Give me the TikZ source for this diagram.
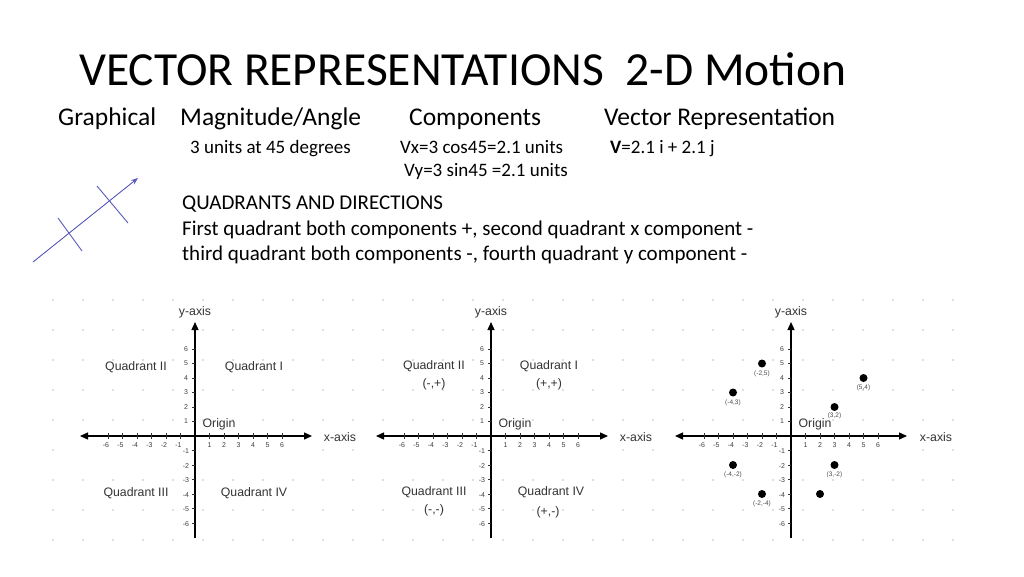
\documentclass[tikz,border=0pt]{standalone}
\usepackage{fontspec}
\setmainfont{Carlito}
\newfontfamily\gfont{Liberation Sans}
\usetikzlibrary{arrows.meta}
\begin{document}
\begin{tikzpicture}[x=1pt,y=-1pt,
  hdr/.style={font=\fontsize{25.5}{30}\selectfont,anchor=base west,inner sep=0},
  sm/.style={font=\fontsize{19}{22}\selectfont,anchor=base west,inner sep=0},
  qd/.style={font=\fontsize{21}{25}\selectfont,anchor=base west,inner sep=0},
  ax/.style={line width=1.3pt,-{Triangle[length=8pt,width=7pt]}},
  tk/.style={font=\gfont\fontsize{7}{8}\selectfont,text=black!75,inner sep=0},
  ql/.style={font=\gfont\fontsize{12.3}{14}\selectfont,text=black!80,inner sep=0},
  pt/.style={circle,fill=black,inner sep=0,minimum size=8pt},
  pl/.style={font=\gfont\fontsize{6.5}{8}\selectfont,text=black!70,inner sep=0},
  vec/.style={draw=blue!45!gray!90,line width=0.9pt}]
\useasboundingbox (0,0) rectangle (1024,576);
\fill[white] (0,0) rectangle (1024,576);
\node[anchor=west,inner sep=0,font=\fontsize{47.5}{54}\selectfont] (title) at (79,69) {VECTOR REPRESENTATIONS\ \ 2-D Motion};
\node[hdr] (h1) at (58,125) {Graphical};
\node[hdr] (h2) at (180,125) {Magnitude/Angle};
\node[hdr] (h3) at (409,125) {Components};
\node[hdr] (h4) at (604,125) {Vector Representation};
\node[sm] (s1) at (190,153) {3 units at 45 degrees};
\node[sm] (s2) at (400,153) {Vx=3 cos45=2.1 units};
\node[sm] (s3) at (404,176) {Vy=3 sin45 =2.1 units};
\node[sm] (s4) at (610,153) {\textbf{V}=2.1 i + 2.1 j};
\node[qd] (q1) at (182,209) {QUADRANTS AND DIRECTIONS};
\node[qd] (q2) at (182,235) {First quadrant both components +, second quadrant x component -};
\node[qd] (q3) at (182,260) {third quadrant both components -, fourth quadrant y component -};
% vector sketch
\coordinate (va) at (33,262); \coordinate (vb) at (138,178);
\draw[vec,-{Stealth[length=7pt]}] (va) -- (vb);
\coordinate (c1a) at (58,218); \coordinate (c1b) at (82,251);
\coordinate (c2a) at (97,186); \coordinate (c2b) at (128,223);
\draw[vec] (c1a) -- (c1b); \draw[vec] (c2a) -- (c2b);
% dot grid
\foreach \x in {53,83,...,953} \foreach \y in {300,330,...,540} \fill[black!25] (\x,\y) circle (0.8pt);
% graphs
\foreach \ox/\xl/\xr in {195/80/312, 491/376/608, 791/675/907}{
  \begin{scope}[shift={(\ox,436)}]
  \fill[white] (-5,-120) rectangle (5,105);
  \fill[white] (\xl-\ox-3,-6) rectangle (\xr-\ox+3,20);
  \draw[line width=1.3pt,{Triangle[length=8pt,width=7pt]}-{Triangle[length=8pt,width=7pt]}] (\xl-\ox,0) -- (\xr-\ox,0);
  \draw[ax] (0,102) -- (0,-114);
  \foreach \i in {1,...,6}{
    \draw[black!80] (\i*14.5,-3) -- (\i*14.5,3);
    \draw[black!80] (-\i*14.5,-3) -- (-\i*14.5,3);
    \draw[black!80] (-3,\i*14.5) -- (0,\i*14.5);
    \draw[black!80] (-3,-\i*14.5) -- (0,-\i*14.5);
    \node[tk] at (\i*14.5,9) {\i};
    \node[tk] at (-\i*14.5-2,9) {-\i};
    \node[tk] at (-9,-\i*14.5) {\i};
    \node[tk] at (-9,\i*14.5+1) {-\i};
  }
  \node[ql] at (24,-12) {Origin};
  \node[ql] at (145,1) {x-axis};
  \node[ql] at (0,-124) {y-axis};
  \end{scope}}
% graph 1 labels
\node[ql] (g1q2) at (136,367) {Quadrant II};
\node[ql] (g1q1) at (254,367) {Quadrant I};
\node[ql] (g1q3) at (136,493) {Quadrant III};
\node[ql] (g1q4) at (254,493) {Quadrant IV};
% graph 2 labels
\node[ql] (g2q2) at (434,366) {Quadrant II};
\node[ql] (g2s2) at (434,384) {(-,+)};
\node[ql] (g2q1) at (549,366) {Quadrant I};
\node[ql] (g2s1) at (549,384) {(+,+)};
\node[ql] (g2q3) at (434,492) {Quadrant III};
\node[ql] (g2s3) at (434,510) {(-,-)};
\node[ql] (g2q4) at (551,492) {Quadrant IV};
\node[ql] (g2s4) at (548,512) {(+,-)};
% graph 3 points
\begin{scope}[shift={(791,436)}]
\foreach \a/\b in {-2/5,5/4,-4/3,-4/-2,3/-2,-2/-4}{
  \node[pt] at (\a*14.5,-\b*14.5) {};
  \node[pl] at (\a*14.5,-\b*14.5+10) {(\a,\b)};
}
\node[pt] (p32) at (3*14.5,-2*14.5) {};
\node[pl] (l32) at (3*14.5,-2*14.5+8.5) {(3,2)};
\node[pt] (p24) at (2*14.5,4*14.5) {};
\end{scope}
\end{tikzpicture}
\end{document}
